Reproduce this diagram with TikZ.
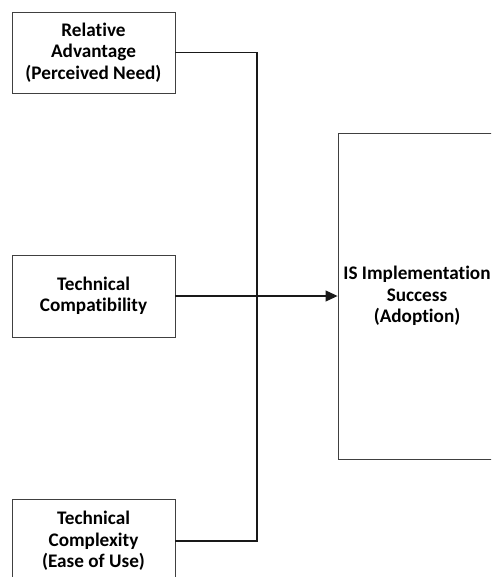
\documentclass[tikz,border=0pt]{standalone}
\usepackage{fontspec}
\setmainfont{Carlito}[Ligatures=NoCommon]
\usetikzlibrary{arrows.meta}
\begin{document}
\begin{tikzpicture}[x=1pt,y=1pt,
  factor/.style={draw=black!75, line width=0.9pt, fill=white, align=center,
    font=\bfseries\fontsize{19.2}{21.5}\selectfont, inner sep=0pt},
  link/.style={draw=black!90, line width=1.5pt},
  feed/.style={draw=black!90, line width=1.1pt,
    -{Triangle[length=12pt,width=11pt]}}]
  \useasboundingbox (0,0) rectangle (491,-577);
  \clip (0,0) rectangle (491,-577);

  % antecedent factors
  \node[factor, minimum width=163, minimum height=81] (adv) at (93.5,-52.5)
    {Relative\\Advantage\\(Perceived Need)};
  \node[factor, minimum width=163, minimum height=82] (compat) at (93.5,-296)
    {Technical\\Compatibility};
  \node[factor, minimum width=163, minimum height=84] (cplx) at (93.5,-541)
    {Technical\\Complexity\\(Ease of Use)};

  % outcome
  \node[factor, minimum width=158, minimum height=326] (succ) at (417,-296)
    {IS Implementation\\Success\\(Adoption)};

  % bus joining the upper and lower factors
  \coordinate (jtop) at (257,-52.5);
  \coordinate (jbot) at (257,-541);
  \draw[link] (adv.east) -- (jtop) -- (jbot) -- (cplx.east);

  % main path into the outcome
  \draw[feed] (compat.east) -- (succ.west);
\end{tikzpicture}
\end{document}
